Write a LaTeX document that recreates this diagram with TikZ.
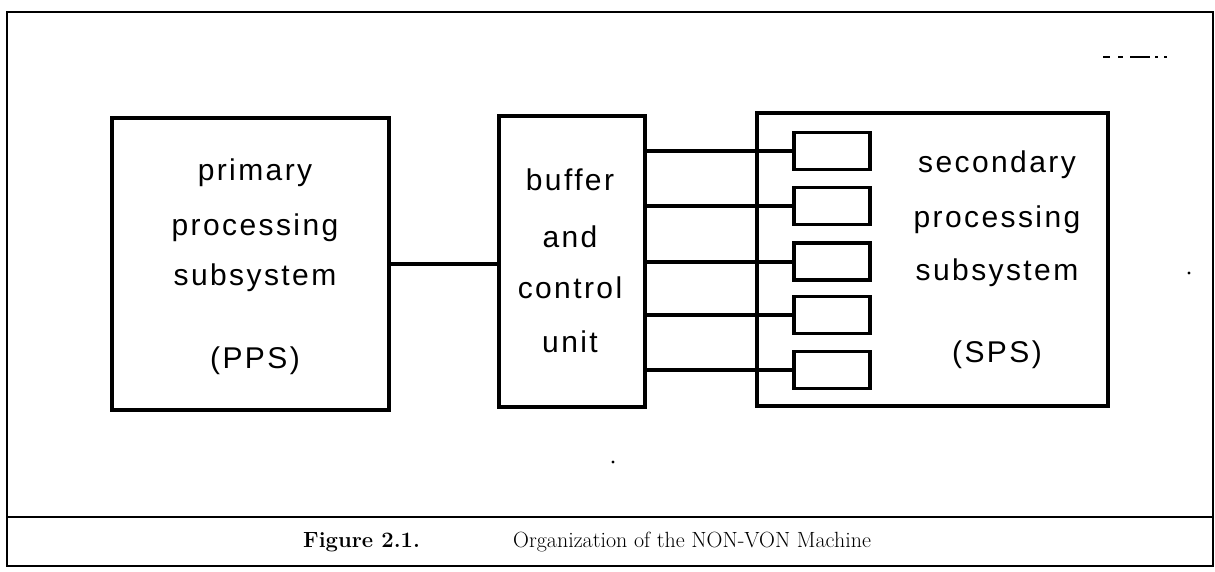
\documentclass[tikz,border=0pt]{standalone}
\usepackage{fontspec}
\newfontfamily\boxfont[LetterSpace=8]{Liberation Sans}
\begin{document}
\begin{tikzpicture}[x=1pt,y=-1pt,
  frameline/.style={line width=2pt},
  blk/.style={draw, line width=3.5pt, rectangle, inner sep=0pt},
  pe/.style={draw, line width=3.5pt, rectangle, minimum width=76pt, minimum height=37pt, inner sep=0pt},
  wire/.style={line width=4pt},
  lbl/.style={font=\boxfont\fontsize{30}{36}\selectfont, inner sep=0pt, anchor=base},
  capb/.style={font=\fontsize{22}{26}\selectfont\bfseries, inner sep=0pt, anchor=base west},
  capr/.style={font=\fontsize{22}{26}\selectfont, inner sep=0pt, anchor=base west},
  speck/.style={line width=1.5pt}]
\useasboundingbox (0,0) rectangle (1215,571);
% outer frame and caption rule
\draw[frameline] (7,12) rectangle (1213,566);
\draw[line width=2.5pt] (7,517) -- (1213,517);
% blocks
\node[blk, minimum width=277pt, minimum height=292pt] (pps) at (250.5,264) {};
\node[blk, minimum width=146pt, minimum height=291pt] (buf) at (572,261.5) {};
\node[blk, minimum width=351pt, minimum height=293pt] (sps) at (932.5,259.5) {};
% processing elements
\node[pe] (s1) at (832,151) {};
\node[pe] (s2) at (832,206) {};
\node[pe] (s3) at (832,261.5) {};
\node[pe] (s4) at (832,315) {};
\node[pe] (s5) at (832,370) {};
% connectors
\draw[wire] (pps.east) -- (pps.east -| buf.west);
\foreach \s in {s1,s2,s3,s4,s5}
  \draw[wire] (\s.west -| buf.east) -- (\s.west);
% labels
\node[lbl] (p1) at (255,180) {primary};
\node[lbl] (p2) at (255,235) {processing};
\node[lbl] (p3) at (255,285) {subsystem};
\node[lbl] (p4) at (255,368) {(PPS)};
\node[lbl] (b1) at (570,190) {buffer};
\node[lbl] (b2) at (570,247) {and};
\node[lbl] (b3) at (570,298) {control};
\node[lbl] (b4) at (570,352) {unit};
\node[lbl] (q1) at (997,172) {secondary};
\node[lbl] (q2) at (997,227) {processing};
\node[lbl] (q3) at (997,280) {subsystem};
\node[lbl] (q4) at (997,362) {(SPS)};
% caption
\node[capb] (fig) at (303,547) {Figure 2.1.};
\node[capr] (cap) at (513,547) {Organization of the NON-VON Machine};
% specks from the original scan
\draw[speck] (1103,57) -- (1110,57) (1118,57) -- (1123,57) (1130,57) -- (1150,57)
  (1155,57) -- (1158,57) (1164,57) -- (1167,57);
\fill (1189,273) circle (1.6pt);
\fill (613,462) circle (1.6pt);
\end{tikzpicture}
\end{document}
